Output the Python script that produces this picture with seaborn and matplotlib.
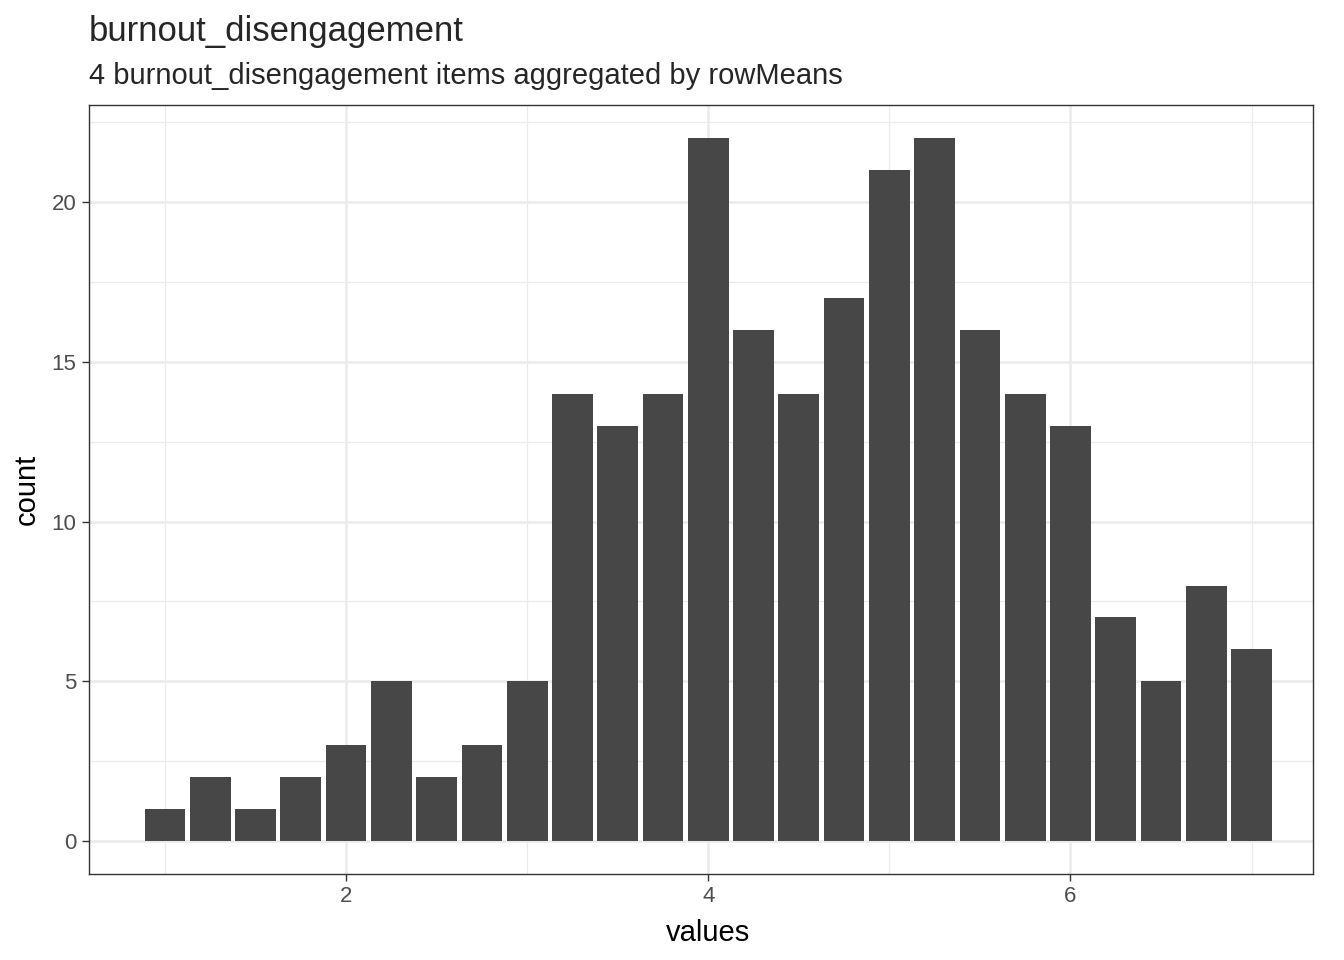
import numpy as np
import pandas as pd
import matplotlib
matplotlib.use("Agg")
import matplotlib.pyplot as plt
import seaborn as sns
from matplotlib.ticker import MultipleLocator

values = [1.0, 1.25, 1.5, 1.75, 2.0, 2.25, 2.5, 2.75, 3.0, 3.25, 3.5, 3.75, 4.0,
          4.25, 4.5, 4.75, 5.0, 5.25, 5.5, 5.75, 6.0, 6.25, 6.5, 6.75, 7.0]
counts = [1, 2, 1, 2, 3, 5, 2, 3, 5, 14, 13, 14, 22,
          16, 14, 17, 21, 22, 16, 14, 13, 7, 5, 8, 6]

title = "burnout_disengagement"
subtitle = "4 burnout_disengagement items aggregated by rowMeans"

df = pd.DataFrame({"values": values, "count": counts})

sns.set_style("white")
plt.rcParams['font.family'] = ['Liberation Sans', 'DejaVu Sans']

fig = plt.figure(figsize=(13.44, 9.6), dpi=100)
ax = fig.add_axes([0.0662, 0.0896, 0.977 - 0.0662, 0.8906 - 0.0896])

sns.barplot(data=df, x="values", y="count", native_scale=True, width=0.9,
            color="#474747", saturation=1, linewidth=0, ax=ax, zorder=3)

ax.set_xlim(0.58, 7.34)
ax.set_ylim(-1.03, 23.04)
ax.xaxis.set_major_locator(MultipleLocator(2))
ax.xaxis.set_minor_locator(MultipleLocator(1))
ax.yaxis.set_major_locator(MultipleLocator(5))
ax.yaxis.set_minor_locator(MultipleLocator(2.5))
ax.grid(which="major", color="#EBEBEB", linewidth=1.8, zorder=0)
ax.grid(which="minor", color="#EBEBEB", linewidth=0.9, zorder=0)
ax.set_axisbelow(True)
for s in ax.spines.values():
    s.set_color("#333333")
    s.set_linewidth(1.0)
ax.tick_params(which="major", length=5, width=1, color="#333333", pad=4,
               labelsize=16, labelcolor="#4D4D4D", bottom=True, left=True)
ax.tick_params(which="minor", length=0)
ax.set_xlabel("values", fontsize=21, color="black")
ax.set_ylabel("count", fontsize=21, color="black", labelpad=8)
ax.xaxis.set_label_coords(0.5057, -0.058, transform=ax.transAxes)
ax.xaxis.label.set_va("top")

fig.text(0.0662, 0.957, title, fontsize=25, ha="left", va="baseline")
fig.text(0.0662, 0.912, subtitle, fontsize=21, ha="left", va="baseline")

fig.savefig("out.png", dpi=100)
